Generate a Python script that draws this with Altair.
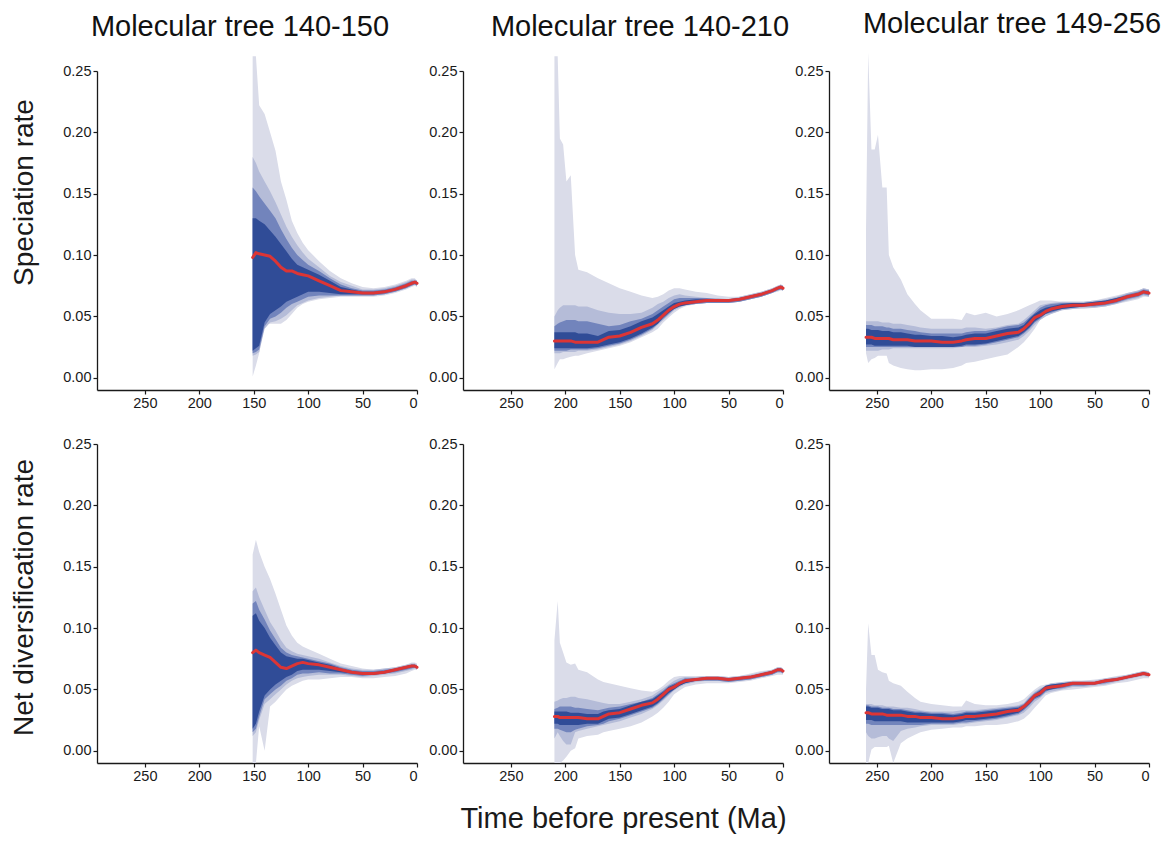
import altair as alt
import pandas as pd

FONT = "Liberation Sans"
BAND_COLORS = ["#dadce9", "#b5bcd8", "#7284bc", "#304c97"]
RED = "#dc3535"

# ---------------- time grids (Ma before present) ----------------
T_A = [151, 148, 145, 140, 135, 130, 125, 120, 115, 110, 105, 100, 90, 80, 70, 60, 50, 40, 30, 20, 10, 5, 2, 0]
T_B = [210, 207, 205, 202, 199, 195, 191, 188, 180, 170, 165, 160, 150, 140, 130, 120, 115, 110, 105, 100,
       95, 90, 80, 70, 60, 50, 40, 30, 20, 10, 5, 2, 0]
T_C = [260, 258, 255, 252, 249, 245, 241, 239, 235, 228, 222, 215, 210, 200, 190, 180, 172, 168, 160, 150,
       140, 130, 120, 115, 110, 105, 100, 95, 90, 80, 70, 60, 50, 40, 30, 20, 10, 5, 0]

# ---------------- Panel 1: speciation, tree 140-150 ----------------
P1_MED = [0.098, 0.102, 0.101, 0.100, 0.099, 0.095, 0.090, 0.087, 0.087, 0.085, 0.084, 0.083, 0.079, 0.075, 0.071, 0.070, 0.069, 0.069, 0.070, 0.072, 0.075, 0.077, 0.078, 0.077]
P1_HI1 = [0.262, 0.262, 0.222, 0.215, 0.200, 0.185, 0.160, 0.145, 0.128, 0.118, 0.110, 0.104, 0.095, 0.087, 0.081, 0.077, 0.074, 0.073, 0.074, 0.076, 0.079, 0.081, 0.081, 0.079]
P1_LO1 = [0.001, 0.010, 0.020, 0.043, 0.044, 0.044, 0.044, 0.047, 0.052, 0.057, 0.060, 0.062, 0.064, 0.065, 0.066, 0.066, 0.066, 0.066, 0.067, 0.069, 0.072, 0.074, 0.075, 0.074]
P1_LO2 = [0.018, 0.019, 0.021, 0.040, 0.045, 0.046, 0.048, 0.051, 0.055, 0.059, 0.061, 0.063, 0.065, 0.066, 0.067, 0.067, 0.067, 0.067, 0.068, 0.070, 0.073, 0.075, 0.076, 0.075]
P1_HI2 = [0.180, 0.175, 0.168, 0.160, 0.152, 0.143, 0.133, 0.123, 0.115, 0.108, 0.102, 0.097, 0.090, 0.083, 0.078, 0.075, 0.072, 0.072, 0.073, 0.075, 0.078, 0.080, 0.080, 0.079]
P1_LO3 = [0.020, 0.021, 0.023, 0.042, 0.048, 0.050, 0.053, 0.057, 0.060, 0.062, 0.064, 0.066, 0.067, 0.067, 0.067, 0.067, 0.067, 0.067, 0.068, 0.070, 0.073, 0.075, 0.076, 0.075]
P1_HI3 = [0.155, 0.152, 0.148, 0.142, 0.136, 0.130, 0.121, 0.113, 0.106, 0.100, 0.096, 0.092, 0.087, 0.081, 0.076, 0.073, 0.071, 0.071, 0.072, 0.074, 0.077, 0.079, 0.079, 0.079]
P1_LO4 = [0.022, 0.024, 0.026, 0.045, 0.052, 0.055, 0.058, 0.062, 0.064, 0.066, 0.068, 0.070, 0.070, 0.069, 0.068, 0.068, 0.068, 0.068, 0.069, 0.071, 0.074, 0.076, 0.077, 0.076]
P1_HI4 = [0.130, 0.130, 0.128, 0.125, 0.120, 0.115, 0.109, 0.103, 0.097, 0.092, 0.090, 0.088, 0.084, 0.079, 0.074, 0.072, 0.070, 0.070, 0.071, 0.073, 0.076, 0.078, 0.078, 0.078]

# ---------------- Panel 2: speciation, tree 140-210 ----------------
P2_MED = [0.030, 0.030, 0.030, 0.030, 0.030, 0.030, 0.029, 0.029, 0.029, 0.029, 0.031, 0.033, 0.034, 0.037, 0.041, 0.044, 0.047, 0.051, 0.055, 0.058, 0.060, 0.061, 0.062, 0.063, 0.063, 0.063, 0.064, 0.066, 0.068, 0.071, 0.073, 0.074, 0.073]
P2_HI1 = [0.262, 0.262, 0.195, 0.190, 0.160, 0.165, 0.100, 0.088, 0.086, 0.081, 0.079, 0.077, 0.073, 0.070, 0.067, 0.065, 0.066, 0.068, 0.071, 0.073, 0.073, 0.072, 0.070, 0.069, 0.067, 0.066, 0.066, 0.068, 0.070, 0.073, 0.075, 0.076, 0.075]
P2_LO1 = [0.007, 0.012, 0.015, 0.015, 0.016, 0.017, 0.018, 0.018, 0.020, 0.022, 0.023, 0.024, 0.026, 0.029, 0.033, 0.037, 0.040, 0.045, 0.049, 0.053, 0.056, 0.058, 0.060, 0.061, 0.061, 0.061, 0.062, 0.064, 0.066, 0.069, 0.070, 0.071, 0.071]
P2_LO2 = [0.020, 0.020, 0.020, 0.021, 0.021, 0.021, 0.021, 0.022, 0.022, 0.023, 0.024, 0.025, 0.027, 0.030, 0.034, 0.039, 0.043, 0.047, 0.051, 0.055, 0.057, 0.059, 0.060, 0.061, 0.061, 0.061, 0.062, 0.064, 0.066, 0.069, 0.071, 0.072, 0.071]
P2_HI2 = [0.050, 0.055, 0.057, 0.059, 0.059, 0.059, 0.059, 0.058, 0.058, 0.055, 0.054, 0.053, 0.052, 0.052, 0.053, 0.057, 0.060, 0.062, 0.065, 0.067, 0.068, 0.067, 0.066, 0.065, 0.065, 0.064, 0.066, 0.068, 0.070, 0.073, 0.075, 0.076, 0.075]
P2_LO3 = [0.022, 0.022, 0.022, 0.022, 0.022, 0.023, 0.023, 0.023, 0.023, 0.024, 0.025, 0.026, 0.028, 0.031, 0.035, 0.040, 0.044, 0.048, 0.052, 0.056, 0.058, 0.059, 0.060, 0.061, 0.061, 0.061, 0.062, 0.064, 0.066, 0.069, 0.071, 0.072, 0.071]
P2_HI3 = [0.042, 0.044, 0.045, 0.046, 0.047, 0.047, 0.047, 0.046, 0.046, 0.044, 0.043, 0.042, 0.043, 0.046, 0.048, 0.052, 0.055, 0.058, 0.061, 0.064, 0.065, 0.065, 0.065, 0.065, 0.064, 0.064, 0.065, 0.067, 0.069, 0.072, 0.074, 0.075, 0.075]
P2_LO4 = [0.024, 0.024, 0.024, 0.024, 0.024, 0.024, 0.024, 0.024, 0.024, 0.025, 0.026, 0.027, 0.029, 0.032, 0.036, 0.041, 0.044, 0.049, 0.053, 0.056, 0.058, 0.059, 0.061, 0.062, 0.062, 0.062, 0.063, 0.065, 0.067, 0.070, 0.072, 0.073, 0.072]
P2_HI4 = [0.037, 0.037, 0.037, 0.037, 0.037, 0.037, 0.037, 0.036, 0.036, 0.034, 0.036, 0.038, 0.039, 0.042, 0.046, 0.049, 0.052, 0.055, 0.058, 0.061, 0.062, 0.063, 0.064, 0.064, 0.064, 0.064, 0.065, 0.067, 0.069, 0.072, 0.074, 0.075, 0.074]

# ---------------- Panel 3: speciation, tree 149-256 ----------------
P3_MED = [0.033, 0.033, 0.033, 0.032, 0.032, 0.032, 0.032, 0.032, 0.031, 0.031, 0.031, 0.030, 0.030, 0.030, 0.029, 0.029, 0.030, 0.031, 0.032, 0.032, 0.034, 0.036, 0.037, 0.040, 0.044, 0.049, 0.051, 0.054, 0.056, 0.058, 0.059, 0.059, 0.060, 0.061, 0.063, 0.066, 0.068, 0.070, 0.069]
P3_HI1 = [0.120, 0.265, 0.186, 0.186, 0.198, 0.155, 0.155, 0.100, 0.090, 0.080, 0.068, 0.060, 0.055, 0.048, 0.048, 0.048, 0.047, 0.053, 0.051, 0.053, 0.050, 0.052, 0.055, 0.057, 0.059, 0.061, 0.063, 0.063, 0.063, 0.062, 0.062, 0.062, 0.063, 0.065, 0.067, 0.069, 0.071, 0.073, 0.072]
P3_LO1 = [0.020, 0.012, 0.015, 0.016, 0.018, 0.018, 0.018, 0.012, 0.010, 0.008, 0.007, 0.006, 0.006, 0.007, 0.007, 0.008, 0.010, 0.012, 0.013, 0.015, 0.017, 0.019, 0.025, 0.029, 0.034, 0.040, 0.047, 0.050, 0.052, 0.055, 0.056, 0.056, 0.057, 0.058, 0.060, 0.062, 0.064, 0.066, 0.066]
P3_LO2 = [0.022, 0.022, 0.022, 0.022, 0.022, 0.023, 0.023, 0.023, 0.024, 0.024, 0.024, 0.024, 0.024, 0.024, 0.024, 0.024, 0.025, 0.025, 0.025, 0.026, 0.027, 0.029, 0.031, 0.034, 0.038, 0.043, 0.047, 0.050, 0.052, 0.055, 0.056, 0.057, 0.057, 0.058, 0.060, 0.063, 0.065, 0.067, 0.066]
P3_HI2 = [0.046, 0.046, 0.046, 0.046, 0.046, 0.045, 0.045, 0.045, 0.044, 0.044, 0.043, 0.042, 0.041, 0.040, 0.040, 0.040, 0.040, 0.041, 0.041, 0.040, 0.041, 0.043, 0.044, 0.047, 0.051, 0.055, 0.059, 0.060, 0.061, 0.062, 0.062, 0.062, 0.063, 0.064, 0.066, 0.069, 0.071, 0.073, 0.072]
P3_LO3 = [0.025, 0.025, 0.025, 0.025, 0.025, 0.025, 0.025, 0.025, 0.025, 0.025, 0.025, 0.025, 0.025, 0.025, 0.025, 0.025, 0.025, 0.026, 0.026, 0.027, 0.029, 0.031, 0.033, 0.036, 0.040, 0.045, 0.048, 0.052, 0.053, 0.056, 0.057, 0.058, 0.058, 0.059, 0.061, 0.064, 0.066, 0.068, 0.067]
P3_HI3 = [0.043, 0.043, 0.043, 0.042, 0.042, 0.042, 0.041, 0.041, 0.040, 0.040, 0.039, 0.038, 0.037, 0.036, 0.036, 0.036, 0.036, 0.037, 0.038, 0.038, 0.040, 0.042, 0.043, 0.045, 0.049, 0.053, 0.057, 0.059, 0.060, 0.061, 0.061, 0.061, 0.062, 0.063, 0.065, 0.068, 0.070, 0.072, 0.071]
P3_LO4 = [0.027, 0.027, 0.027, 0.026, 0.026, 0.026, 0.026, 0.026, 0.026, 0.026, 0.026, 0.025, 0.025, 0.025, 0.025, 0.025, 0.026, 0.027, 0.027, 0.028, 0.030, 0.032, 0.034, 0.037, 0.041, 0.046, 0.049, 0.052, 0.054, 0.056, 0.057, 0.058, 0.059, 0.060, 0.062, 0.065, 0.067, 0.069, 0.068]
P3_HI4 = [0.040, 0.040, 0.039, 0.039, 0.039, 0.038, 0.038, 0.038, 0.037, 0.037, 0.036, 0.035, 0.035, 0.034, 0.034, 0.033, 0.034, 0.035, 0.036, 0.036, 0.038, 0.040, 0.041, 0.043, 0.048, 0.052, 0.055, 0.057, 0.058, 0.060, 0.061, 0.061, 0.062, 0.063, 0.065, 0.067, 0.069, 0.071, 0.070]

# ---------------- Panel 4: net diversification, tree 140-150 ----------------
P4_MED = [0.080, 0.082, 0.080, 0.078, 0.076, 0.072, 0.068, 0.067, 0.069, 0.071, 0.072, 0.071, 0.070, 0.068, 0.066, 0.064, 0.063, 0.063, 0.064, 0.066, 0.068, 0.069, 0.069, 0.068]
P4_HI1 = [0.160, 0.172, 0.162, 0.150, 0.140, 0.128, 0.115, 0.102, 0.094, 0.088, 0.085, 0.083, 0.079, 0.075, 0.071, 0.069, 0.067, 0.066, 0.067, 0.068, 0.070, 0.072, 0.072, 0.071]
P4_LO1 = [-0.010, -0.010, 0.020, 0.000, 0.036, 0.040, 0.045, 0.050, 0.053, 0.055, 0.057, 0.058, 0.058, 0.059, 0.060, 0.060, 0.059, 0.059, 0.060, 0.061, 0.063, 0.065, 0.066, 0.066]
P4_LO2 = [0.012, 0.015, 0.025, 0.038, 0.042, 0.046, 0.050, 0.054, 0.057, 0.059, 0.060, 0.061, 0.062, 0.062, 0.062, 0.061, 0.060, 0.061, 0.062, 0.063, 0.065, 0.066, 0.067, 0.066]
P4_HI2 = [0.130, 0.133, 0.125, 0.115, 0.105, 0.098, 0.090, 0.084, 0.081, 0.079, 0.078, 0.077, 0.075, 0.072, 0.069, 0.067, 0.066, 0.066, 0.067, 0.068, 0.070, 0.071, 0.071, 0.070]
P4_LO3 = [0.015, 0.018, 0.028, 0.042, 0.046, 0.050, 0.053, 0.057, 0.059, 0.062, 0.063, 0.063, 0.064, 0.063, 0.063, 0.062, 0.061, 0.062, 0.063, 0.064, 0.066, 0.067, 0.068, 0.067]
P4_HI3 = [0.120, 0.122, 0.115, 0.107, 0.098, 0.091, 0.084, 0.080, 0.078, 0.077, 0.076, 0.075, 0.073, 0.071, 0.068, 0.066, 0.065, 0.065, 0.066, 0.067, 0.069, 0.070, 0.070, 0.069]
P4_LO4 = [0.018, 0.022, 0.032, 0.045, 0.050, 0.054, 0.057, 0.060, 0.062, 0.065, 0.066, 0.066, 0.066, 0.065, 0.064, 0.063, 0.062, 0.062, 0.063, 0.065, 0.067, 0.068, 0.068, 0.067]
P4_HI4 = [0.110, 0.112, 0.106, 0.100, 0.092, 0.086, 0.080, 0.077, 0.076, 0.075, 0.075, 0.074, 0.072, 0.070, 0.067, 0.065, 0.064, 0.064, 0.065, 0.067, 0.069, 0.070, 0.070, 0.069]

# ---------------- Panel 5: net diversification, tree 140-210 ----------------
P5_MED = [0.028, 0.028, 0.027, 0.027, 0.027, 0.027, 0.027, 0.027, 0.026, 0.026, 0.028, 0.030, 0.031, 0.034, 0.037, 0.039, 0.042, 0.046, 0.050, 0.052, 0.055, 0.057, 0.058, 0.059, 0.059, 0.058, 0.059, 0.060, 0.062, 0.064, 0.066, 0.066, 0.065]
P5_HI1 = [0.090, 0.122, 0.088, 0.080, 0.072, 0.070, 0.071, 0.066, 0.064, 0.058, 0.056, 0.055, 0.053, 0.051, 0.049, 0.048, 0.050, 0.053, 0.057, 0.060, 0.061, 0.061, 0.061, 0.061, 0.061, 0.060, 0.061, 0.063, 0.065, 0.066, 0.068, 0.068, 0.067]
P5_LO1 = [-0.010, -0.010, -0.010, -0.008, -0.005, 0.000, 0.002, 0.010, 0.012, 0.013, 0.015, 0.016, 0.018, 0.020, 0.023, 0.028, 0.031, 0.035, 0.040, 0.046, 0.049, 0.052, 0.054, 0.055, 0.055, 0.055, 0.056, 0.057, 0.059, 0.061, 0.062, 0.062, 0.062]
P5_LO2 = [0.010, 0.015, 0.012, 0.008, 0.005, 0.005, 0.015, 0.016, 0.018, 0.020, 0.021, 0.022, 0.024, 0.027, 0.030, 0.034, 0.037, 0.041, 0.045, 0.049, 0.052, 0.054, 0.056, 0.057, 0.057, 0.056, 0.057, 0.058, 0.060, 0.062, 0.064, 0.064, 0.063]
P5_HI2 = [0.040, 0.041, 0.042, 0.043, 0.043, 0.044, 0.044, 0.043, 0.042, 0.040, 0.039, 0.038, 0.038, 0.040, 0.042, 0.045, 0.048, 0.051, 0.054, 0.057, 0.059, 0.060, 0.060, 0.061, 0.061, 0.060, 0.061, 0.062, 0.064, 0.066, 0.068, 0.068, 0.067]
P5_LO3 = [0.018, 0.018, 0.017, 0.016, 0.015, 0.015, 0.017, 0.018, 0.020, 0.021, 0.022, 0.024, 0.026, 0.029, 0.032, 0.035, 0.038, 0.042, 0.046, 0.050, 0.053, 0.055, 0.057, 0.057, 0.057, 0.056, 0.057, 0.058, 0.060, 0.062, 0.064, 0.064, 0.063]
P5_HI3 = [0.034, 0.035, 0.036, 0.036, 0.036, 0.036, 0.035, 0.035, 0.034, 0.033, 0.034, 0.035, 0.036, 0.038, 0.040, 0.043, 0.046, 0.049, 0.053, 0.055, 0.057, 0.059, 0.059, 0.060, 0.060, 0.059, 0.060, 0.061, 0.063, 0.065, 0.067, 0.067, 0.066]
P5_LO4 = [0.022, 0.022, 0.021, 0.021, 0.021, 0.021, 0.021, 0.021, 0.022, 0.022, 0.024, 0.026, 0.027, 0.030, 0.033, 0.036, 0.039, 0.043, 0.047, 0.050, 0.053, 0.055, 0.057, 0.058, 0.058, 0.057, 0.058, 0.059, 0.061, 0.063, 0.065, 0.065, 0.064]
P5_HI4 = [0.032, 0.032, 0.032, 0.032, 0.032, 0.031, 0.031, 0.031, 0.030, 0.030, 0.032, 0.033, 0.034, 0.037, 0.040, 0.042, 0.045, 0.048, 0.052, 0.054, 0.056, 0.058, 0.059, 0.060, 0.060, 0.059, 0.060, 0.061, 0.063, 0.065, 0.067, 0.067, 0.066]

# ---------------- Panel 6: net diversification, tree 149-256 ----------------
P6_MED = [0.031, 0.031, 0.030, 0.030, 0.030, 0.030, 0.029, 0.029, 0.029, 0.029, 0.028, 0.028, 0.027, 0.027, 0.026, 0.026, 0.027, 0.028, 0.028, 0.029, 0.030, 0.032, 0.033, 0.036, 0.040, 0.045, 0.047, 0.051, 0.052, 0.053, 0.055, 0.055, 0.055, 0.057, 0.058, 0.060, 0.062, 0.063, 0.062]
P6_HI1 = [0.050, 0.104, 0.078, 0.078, 0.066, 0.064, 0.063, 0.057, 0.055, 0.053, 0.048, 0.043, 0.040, 0.038, 0.037, 0.036, 0.036, 0.041, 0.038, 0.037, 0.037, 0.038, 0.040, 0.042, 0.046, 0.050, 0.053, 0.054, 0.055, 0.055, 0.056, 0.057, 0.058, 0.059, 0.061, 0.062, 0.064, 0.065, 0.064]
P6_LO1 = [-0.010, -0.010, 0.001, 0.003, 0.003, 0.003, 0.003, 0.004, -0.010, 0.006, 0.010, 0.013, 0.015, 0.017, 0.018, 0.019, 0.019, 0.020, 0.020, 0.021, 0.021, 0.022, 0.024, 0.026, 0.030, 0.035, 0.040, 0.045, 0.047, 0.049, 0.050, 0.051, 0.052, 0.053, 0.055, 0.056, 0.058, 0.059, 0.059]
P6_LO2 = [0.015, 0.012, 0.010, 0.010, 0.011, 0.012, 0.012, 0.010, 0.008, 0.016, 0.018, 0.019, 0.020, 0.021, 0.021, 0.021, 0.022, 0.022, 0.023, 0.024, 0.025, 0.027, 0.029, 0.031, 0.035, 0.040, 0.043, 0.047, 0.048, 0.050, 0.052, 0.052, 0.053, 0.054, 0.056, 0.058, 0.060, 0.061, 0.060]
P6_HI2 = [0.038, 0.038, 0.038, 0.037, 0.037, 0.037, 0.036, 0.036, 0.036, 0.035, 0.035, 0.034, 0.033, 0.032, 0.032, 0.032, 0.033, 0.033, 0.033, 0.034, 0.035, 0.036, 0.037, 0.039, 0.044, 0.048, 0.051, 0.053, 0.055, 0.056, 0.057, 0.057, 0.057, 0.059, 0.060, 0.062, 0.064, 0.065, 0.064]
P6_LO3 = [0.022, 0.022, 0.021, 0.021, 0.021, 0.021, 0.021, 0.021, 0.021, 0.021, 0.021, 0.021, 0.021, 0.022, 0.022, 0.022, 0.023, 0.023, 0.024, 0.025, 0.026, 0.028, 0.030, 0.033, 0.037, 0.042, 0.044, 0.048, 0.050, 0.051, 0.053, 0.053, 0.054, 0.055, 0.057, 0.059, 0.061, 0.062, 0.061]
P6_HI3 = [0.037, 0.037, 0.036, 0.036, 0.036, 0.035, 0.035, 0.035, 0.034, 0.034, 0.033, 0.032, 0.032, 0.031, 0.031, 0.030, 0.031, 0.032, 0.032, 0.033, 0.034, 0.035, 0.036, 0.038, 0.043, 0.047, 0.050, 0.053, 0.054, 0.055, 0.056, 0.056, 0.056, 0.058, 0.059, 0.061, 0.063, 0.064, 0.063]
P6_LO4 = [0.025, 0.025, 0.025, 0.024, 0.024, 0.024, 0.024, 0.024, 0.024, 0.024, 0.023, 0.023, 0.023, 0.023, 0.023, 0.023, 0.024, 0.025, 0.025, 0.026, 0.027, 0.029, 0.031, 0.034, 0.038, 0.043, 0.045, 0.049, 0.050, 0.052, 0.054, 0.054, 0.054, 0.056, 0.057, 0.059, 0.061, 0.062, 0.061]
P6_HI4 = [0.036, 0.036, 0.035, 0.035, 0.035, 0.034, 0.034, 0.034, 0.033, 0.033, 0.032, 0.031, 0.031, 0.030, 0.030, 0.029, 0.030, 0.031, 0.031, 0.032, 0.033, 0.034, 0.035, 0.037, 0.042, 0.046, 0.049, 0.053, 0.054, 0.055, 0.056, 0.056, 0.056, 0.058, 0.059, 0.061, 0.063, 0.064, 0.063]

COL_TITLES = ["Molecular tree 140-150", "Molecular tree 140-210", "Molecular tree 149-256"]
ROW_TITLES = ["Speciation rate", "Net diversification rate"]
X_TITLE = "Time before present (Ma)"
Y_TICKS = [0.0, 0.05, 0.10, 0.15, 0.20, 0.25]
X_TICKS = [0, 50, 100, 150, 200, 250]

PANELS = [
    (T_A, P1_MED, [(P1_LO1, P1_HI1), (P1_LO2, P1_HI2), (P1_LO3, P1_HI3), (P1_LO4, P1_HI4)]),
    (T_B, P2_MED, [(P2_LO1, P2_HI1), (P2_LO2, P2_HI2), (P2_LO3, P2_HI3), (P2_LO4, P2_HI4)]),
    (T_C, P3_MED, [(P3_LO1, P3_HI1), (P3_LO2, P3_HI2), (P3_LO3, P3_HI3), (P3_LO4, P3_HI4)]),
    (T_A, P4_MED, [(P4_LO1, P4_HI1), (P4_LO2, P4_HI2), (P4_LO3, P4_HI3), (P4_LO4, P4_HI4)]),
    (T_B, P5_MED, [(P5_LO1, P5_HI1), (P5_LO2, P5_HI2), (P5_LO3, P5_HI3), (P5_LO4, P5_HI4)]),
    (T_C, P6_MED, [(P6_LO1, P6_HI1), (P6_LO2, P6_HI2), (P6_LO3, P6_HI3), (P6_LO4, P6_HI4)]),
]

W, H = 320, 319
TITLE_DX = [-17, 17, 23]
YTITLE_Y = [121, 153]
INK = "#1a1a1a"


def make_panel(idx):
    t, med, bands = PANELS[idx]
    row, col = divmod(idx, 3)
    xscale = alt.Scale(domain=[0, 294], reverse=True, nice=False, zero=False)
    yscale = alt.Scale(domain=[-0.01, 0.25], nice=False, zero=False)
    common = dict(labelFont=FONT, labelFontSize=14.5, labelColor=INK, domainColor=INK, domainWidth=1.3,
                  tickColor=INK, tickSize=4, tickWidth=1.2, labelPadding=2, grid=False,
                  titleFont=FONT, titleColor=INK, titleFontWeight="normal")
    xaxis = alt.Axis(values=X_TICKS, format="d", title=X_TITLE if idx == 4 else None,
                     titleFontSize=29, titlePadding=22, **common)
    if col == 0:
        yaxis = alt.Axis(values=Y_TICKS, format=".2f", title=ROW_TITLES[row],
                         titleFontSize=28, titleAngle=270,
                         titleX=-65, titleY=YTITLE_Y[row], titleAlign="center",
                         titleBaseline="alphabetic", **common)
    else:
        yaxis = alt.Axis(values=Y_TICKS, format=".2f", title=None, **common)

    layers = []
    for lvl, (lo, hi) in enumerate(bands):
        df = pd.DataFrame({"t": t, "lo": lo, "hi": hi})
        layers.append(
            alt.Chart(df).mark_area(color=BAND_COLORS[lvl], opacity=1).encode(
                x=alt.X("t:Q", scale=xscale, axis=xaxis),
                y=alt.Y("lo:Q", scale=yscale, axis=yaxis),
                y2="hi:Q",
            )
        )
    mdf = pd.DataFrame({"t": t, "med": med})
    layers.append(
        alt.Chart(mdf).mark_line(color=RED, strokeWidth=3, strokeJoin="round", strokeCap="round").encode(
            x=alt.X("t:Q", scale=xscale, axis=xaxis),
            y=alt.Y("med:Q", scale=yscale, axis=yaxis),
        )
    )
    props = dict(width=W, height=H)
    if row == 0:
        props["title"] = alt.TitleParams(text=COL_TITLES[col], fontSize=29, fontWeight="normal",
                                         font=FONT, anchor="middle", frame="group", offset=-9,
                                         dx=TITLE_DX[col], baseline="alphabetic", color="#111")
    return alt.layer(*layers).properties(**props)


chart = alt.concat(
    *[make_panel(i) for i in range(6)],
    columns=3, spacing={"row": 54, "column": 46}, bounds="flush"
).properties(
    padding={"left": 10, "top": 9, "right": 5, "bottom": 5}
).configure_view(stroke=None)

chart.save("out.html", embed_options={"renderer": "svg", "actions": False})
